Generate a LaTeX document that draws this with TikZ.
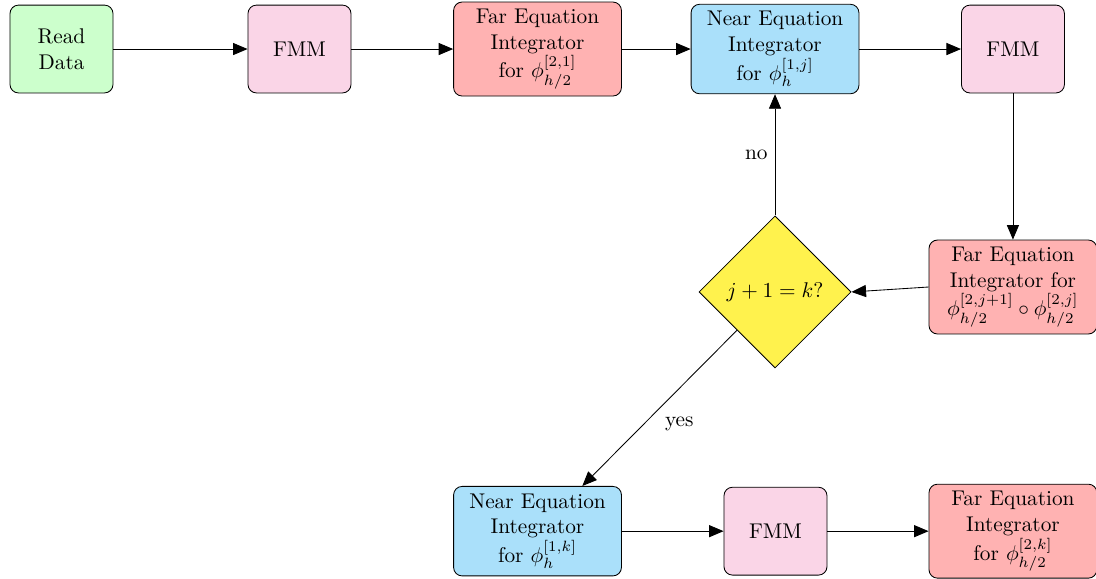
\documentclass[tikz,border=0pt]{standalone}
\usepackage{amsmath}
\usepackage{amssymb}
\usepackage{tikz}
\usetikzlibrary{arrows.meta,shapes.geometric,positioning}
\definecolor{readgreen}{RGB}{204,255,204}
\definecolor{fmmpink}{RGB}{250,213,231}
\definecolor{farred}{RGB}{255,178,178}
\definecolor{nearblue}{RGB}{170,224,250}
\definecolor{testyellow}{RGB}{255,242,77}

\begin{document}
\begin{tikzpicture}[
	box/.style={draw=black, rounded corners=4pt, align=center, minimum height=1.45cm},
	smallbox/.style={box, minimum width=1.7cm},
	bigbox/.style={box, minimum width=2.77cm},
	flow/.style={-{Triangle[length=2.4mm,width=2mm]}}]
	\useasboundingbox (0,0) rectangle (18.086,-9.538);
	\node[smallbox, fill=readgreen] (read) at (1.015,-0.809) {Read\\Data};
	\node[smallbox, fill=fmmpink] (fmma) at (4.942,-0.809) {FMM};
	\node[bigbox, fill=farred] (fara) at (8.870,-0.809) {Far Equation\\Integrator\\for $\phi^{[2,1]}_{h/2}$};
	\node[bigbox, fill=nearblue] (neara) at (12.789,-0.809) {Near Equation\\Integrator\\for $\phi^{[1,j]}_{h}$};
	\node[smallbox, fill=fmmpink] (fmmb) at (16.715,-0.809) {FMM};
	\node[bigbox, fill=farred] (farb) at (16.715,-4.736) {Far Equation\\Integrator for\\$\phi^{[2,j+1]}_{h/2}\circ\phi^{[2,j]}_{h/2}$};
	\node[diamond, aspect=1, draw=black, fill=testyellow, minimum size=2.51cm, inner sep=0pt] (test) at (12.789,-4.818) {$j+1=k?$};
	\node[bigbox, fill=nearblue] (nearb) at (8.870,-8.765) {Near Equation\\Integrator\\for $\phi^{[1,k]}_{h}$};
	\node[smallbox, fill=fmmpink] (fmmc) at (12.797,-8.765) {FMM};
	\node[bigbox, fill=farred] (farc) at (16.715,-8.765) {Far Equation\\Integrator\\for $\phi^{[2,k]}_{h/2}$};

	\draw[flow] (read) -- (fmma);
	\draw[flow] (fmma) -- (fara);
	\draw[flow] (fara) -- (neara);
	\draw[flow] (neara) -- (fmmb);
	\draw[flow] (fmmb.south) -- (farb.north);
	\draw[flow] (farb.west) -- (test.east);
	\draw[flow] (test) -- node[left, pos=0.5] {no} (neara);
	\draw[flow] (test) -- node[right, pos=0.6, xshift=0.22cm] {yes} (nearb);
	\draw[flow] (nearb) -- (fmmc);
	\draw[flow] (fmmc) -- (farc);
\end{tikzpicture}
\end{document}
